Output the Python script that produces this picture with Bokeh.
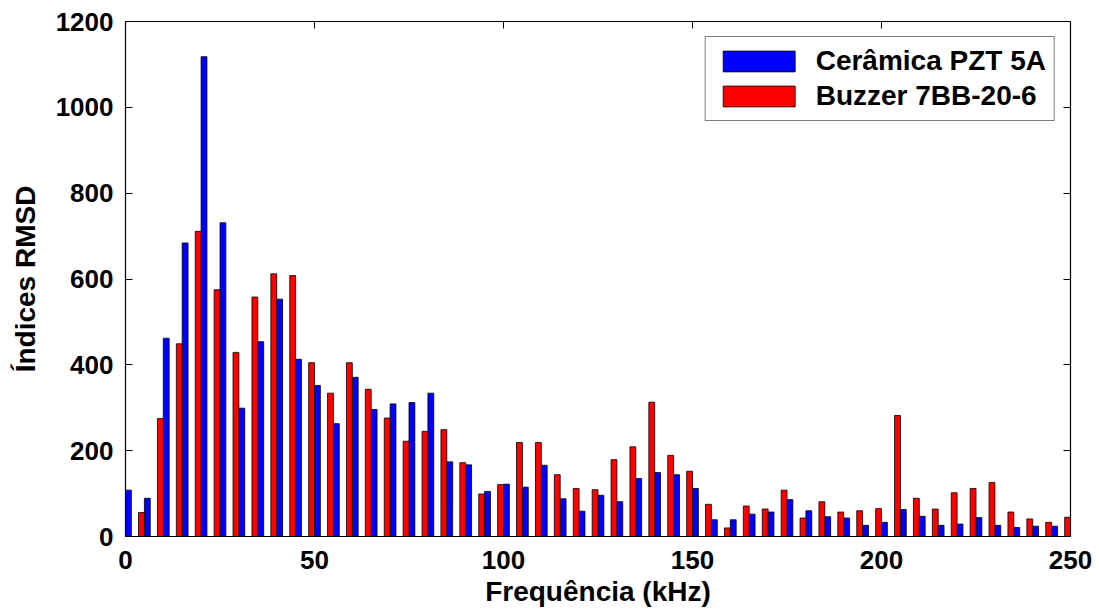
import math
from bokeh.plotting import figure
from bokeh.models import (ColumnDataSource, Range1d, LinearAxis, FixedTicker, Legend, LegendItem,
                          CustomJSTickFormatter)
from bokeh.transform import dodge
from bokeh.embed import file_html
from bokeh.resources import INLINE

nan = float("nan")
freqs = list(range(0, 255, 5))
ceramica = [108, 89, 462, 684, 1118, 731, 299, 454, 553, 413, 352, 263, 371, 296, 309, 312, 334,
            174, 167, 105, 122, 115, 166, 88, 59, 96, 81, 135, 149, 144, 112, 39, 39, 52, 57, 86,
            60, 46, 43, 26, 33, 63, 47, 26, 29, 44, 26, 21, 24, 24, nan]
buzzer = [nan, 56, 275, 449, 711, 575, 429, 558, 612, 608, 405, 334, 405, 343, 276, 222, 245,
          249, 172, 99, 121, 219, 219, 144, 112, 109, 179, 209, 313, 189, 152, 75, 20, 71, 64, 108,
          43, 81, 57, 60, 65, 282, 89, 64, 102, 112, 126, 57, 41, 33, 45]
series_names = ["Cerâmica PZT 5A", "Buzzer 7BB-20-6"]
x_ticks = [0, 50, 100, 150, 200, 250]
y_ticks = [0, 200, 400, 600, 800, 1000, 1200]

src = ColumnDataSource(dict(f=freqs, c=ceramica, b=buzzer))

p = figure(width=1099, height=609, output_backend="svg", toolbar_location=None,
           x_range=Range1d(0, 250), y_range=Range1d(0, 1200),
           min_border_left=125, min_border_right=29, min_border_top=21, min_border_bottom=72,
           x_axis_label="Frequência (kHz)", y_axis_label="Índices RMSD")
p.xgrid.visible = False
p.ygrid.visible = False
p.outline_line_color = "black"
p.outline_line_width = 1.2
p.background_fill_color = "white"
p.border_fill_color = "white"

rb = p.vbar(x=dodge("f", 0.775, range=p.x_range), top="c", width=1.55, source=src,
            fill_color="#0000FF", line_color="black", line_width=0.8)
rr = p.vbar(x=dodge("f", -0.775, range=p.x_range), top="b", width=1.55, source=src,
            fill_color="#FF0000", line_color="black", line_width=0.8)

for ax in p.xaxis:
    ax.ticker = FixedTicker(ticks=x_ticks)
for ax in p.yaxis:
    ax.ticker = FixedTicker(ticks=y_ticks)

font = "Liberation Sans"
for ax in list(p.xaxis) + list(p.yaxis):
    ax.major_tick_in = 7
    ax.major_tick_out = 0
    ax.minor_tick_in = 0
    ax.minor_tick_out = 0
    ax.axis_line_color = "black"
    ax.major_tick_line_color = "black"
    ax.major_label_text_font = font
    ax.major_label_text_font_style = "bold"
    ax.major_label_text_font_size = "26px"
    ax.major_label_text_color = "black"
    ax.axis_label_text_font = font
    ax.axis_label_text_font_style = "bold"
    ax.axis_label_text_font_size = "28px"
    ax.axis_label_text_color = "black"
p.xaxis.major_label_standoff = 14
p.yaxis.major_label_standoff = 12
p.xaxis.axis_label_standoff = 4
p.yaxis.axis_label_standoff = 12

empty = CustomJSTickFormatter(code="return ''")
top_ax = LinearAxis(ticker=FixedTicker(ticks=x_ticks), formatter=empty,
                    major_tick_in=7, major_tick_out=0, minor_tick_in=0, minor_tick_out=0,
                    major_label_standoff=0)
right_ax = LinearAxis(ticker=FixedTicker(ticks=y_ticks), formatter=empty,
                      major_tick_in=7, major_tick_out=0, minor_tick_in=0, minor_tick_out=0,
                      major_label_standoff=0)
p.add_layout(top_ax, "above")
p.add_layout(right_ax, "right")

legend = Legend(items=[LegendItem(label=series_names[0], renderers=[rb]),
                       LegendItem(label=series_names[1], renderers=[rr])],
                location="top_right")
legend.label_text_font = font
legend.label_text_font_style = "bold"
legend.label_text_font_size = "28px"
legend.label_text_color = "black"
legend.glyph_width = 90
legend.glyph_height = 26
legend.label_height = 26
legend.spacing = 3
legend.padding = 8
legend.label_standoff = 12
legend.margin = 15
legend.border_line_color = "black"
legend.border_line_width = 1
legend.background_fill_color = "white"
p.add_layout(legend)

open("out.html", "w").write(file_html(p, INLINE))
